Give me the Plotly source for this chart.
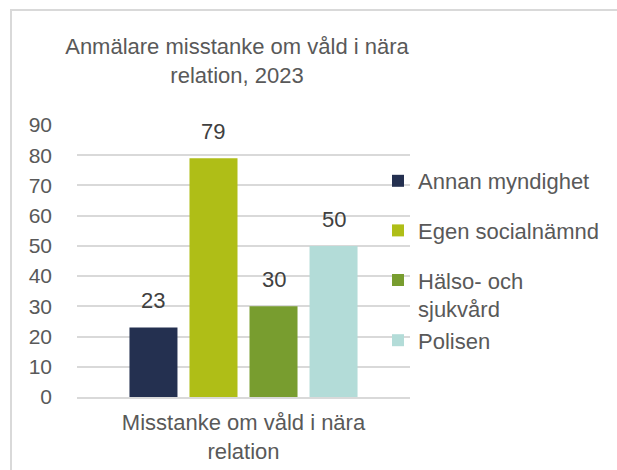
import plotly.graph_objects as go

category = ["Misstanke om våld i nära<br>relation"]
series_names = ["Annan myndighet", "Egen socialnämnd", "Hälso- och<br>sjukvård", "Polisen"]
series_values = [[23], [79], [30], [50]]
series_colors = ["#243050", "#AFBE17", "#789D2F", "#B3DCD8"]
legend_groups = ["g1", "g2", "g3", "g3"]
y_ticks = [0, 10, 20, 30, 40, 50, 60, 70, 80, 90]

W, H = 617, 470
L, R, T, B = 77, 207, 125, 73
pw, ph = W - L - R, H - T - B
BARGAP, GROUPGAP = 0.279, 0.2
n = len(series_names)

fig = go.Figure()
annotations = []
for i, (name, vals, col, grp) in enumerate(zip(series_names, series_values, series_colors, legend_groups)):
    fig.add_trace(go.Bar(
        x=category, y=vals, name=name, marker_color=col, marker_line_width=0,
        legendgroup=grp,
    ))
    slot = (1 - BARGAP) / n
    for j, v in enumerate(vals):
        annotations.append(dict(
            x=j + (i - (n - 1) / 2) * slot, y=v, xref="x", yref="y",
            text=str(v), showarrow=False, yanchor="bottom", yshift=12,
            font=dict(size=22, color="#404040"),
        ))

fig.update_layout(
    width=W, height=H,
    margin=dict(l=L, r=R, t=T, b=B, autoexpand=False),
    paper_bgcolor="white", plot_bgcolor="white",
    font=dict(family="Liberation Sans, Arial, sans-serif", color="#595959"),
    barmode="group", bargap=BARGAP, bargroupgap=GROUPGAP,
    title=dict(text="Anmälare misstanke om våld i nära<br>relation, 2023",
               x=(237 - L) / pw, xref="paper", xanchor="center",
               y=1 - 54 / H, yref="container", yanchor="middle",
               font=dict(size=22, color="#595959")),
    showlegend=True,
    legend=dict(x=(378 - L) / pw, xanchor="left", y=(H - B - 160) / ph, yanchor="top",
                bgcolor="rgba(0,0,0,0)", font=dict(size=22, color="#595959"),
                tracegroupgap=18, traceorder="grouped", valign="top"),
    xaxis=dict(showgrid=False, showline=True, linecolor="#D9D9D9", linewidth=2,
               tickfont=dict(size=22, color="#595959"), ticks="", ticklabelstandoff=5),
    yaxis=dict(range=[0, 90], tickvals=y_ticks, showgrid=True, gridcolor="#D9D9D9",
               gridwidth=2, zeroline=False, showline=False, ticks="",
               tickfont=dict(size=21, color="#595959"), ticklabelstandoff=24),
    annotations=annotations,
    shapes=[dict(type="rect", xref="paper", yref="paper",
                 x0=(11 - L) / pw, x1=(W + 20 - L) / pw,
                 y0=(H - B - (H + 20)) / ph, y1=(H - B - 10) / ph,
                 line=dict(color="#D9D9D9", width=2), fillcolor="rgba(0,0,0,0)", layer="below")],
)

fig.write_html("out.html", config={"displayModeBar": False},
               post_script="document.body.style.margin='0';")
